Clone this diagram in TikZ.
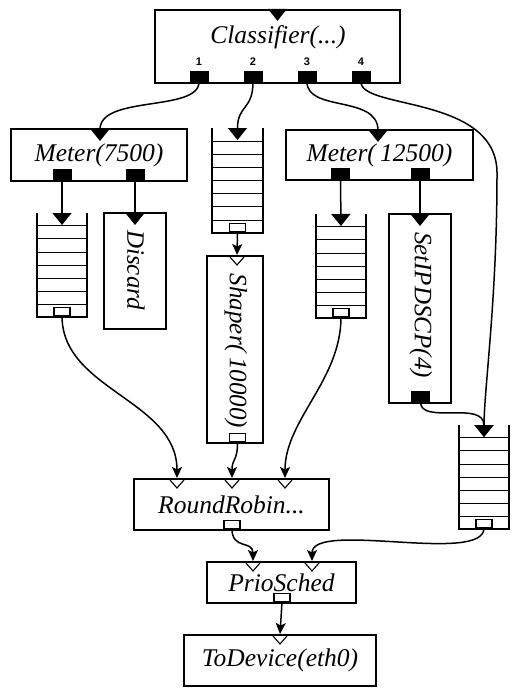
\documentclass[tikz,border=0pt]{standalone}
\usepackage{fontspec}
\setmainfont{Liberation Serif}
\setsansfont{Liberation Sans}
\usetikzlibrary{arrows.meta,calc}
\tikzset{
 box/.style={draw, line width=2.3pt, inner sep=0pt, fill=white, font=\itshape\fontsize{25.5}{25.5}\selectfont},
 lab/.style={font=\itshape\fontsize{25.5}{25.5}\selectfont, inner sep=0pt},
 rlab/.style={font=\itshape\fontsize{25}{25}\selectfont, inner sep=0pt, rotate=-90},
 num/.style={font=\sffamily\bfseries\fontsize{11}{11}\selectfont, inner sep=0pt},
 pushout/.style={fill=black, draw=black, line width=0.6pt, minimum width=18pt, minimum height=10pt, inner sep=0pt, anchor=south},
 pullout/.style={fill=white, draw=black, line width=1.1pt, minimum width=16pt, minimum height=8pt, inner sep=0pt, anchor=south},
 pushconn/.style={line width=1.5pt, -{Triangle[length=12pt,width=19pt]}},
 pullconn/.style={line width=1.5pt, -{Stealth[length=11pt,width=10pt,inset=2.5pt]}},
 qbox/.style={minimum width=50pt, minimum height=104pt, inner sep=0pt},
 qside/.style={line width=2.3pt},
 qline/.style={line width=0.9pt},
 pullin/.style={draw, line width=1.1pt, line join=miter},
}
\newcommand\drawq[1]{%
 \draw[qside] (#1.north west) -- (#1.south west) -- (#1.south east) -- (#1.north east);
 \foreach \k in {1,...,7}{\draw[qline] ($(#1.north west)!\k/8!(#1.south west)$) -- ($(#1.north east)!\k/8!(#1.south east)$);}%
}
\newcommand\pullport[1]{\draw[pullin] ($(#1)+(-7,0)$) -- ($(#1)+(0,8)$) -- ($(#1)+(7,0)$);}
\begin{document}
\begin{tikzpicture}[x=1pt,y=-1pt]
\useasboundingbox (0,0) rectangle (520,696);
% boxes
\node[box, minimum width=245pt, minimum height=73pt] (cls) at (277.5,46.5) {};
\node[lab] (clsT) at (278,37) {Classifier(...)};
\node[num] (n1) at (199,62) {1};
\node[num] (n2) at (253,62) {2};
\node[num] (n3) at (307,62) {3};
\node[num] (n4) at (361,62) {4};
\fill ($(cls.north)+(-9.5,0)$) -- ($(cls.north)+(9.5,0)$) -- ($(cls.north)+(0,12)$) -- cycle;

\node[box, minimum width=176pt, minimum height=52pt] (m1) at (99,155) {Meter(7500)};
\node[box, minimum width=187pt, minimum height=50pt] (m2) at (379.5,155) {Meter(\,12500)};
\node[box, minimum width=62pt, minimum height=116pt] (disc) at (135,271) {};
\node[rlab] (discT) at (136,270) {Discard};
\node[box, minimum width=62pt, minimum height=189pt] (setip) at (420,308.5) {};
\node[rlab] (setipT) at (421,305) {SetIPDSCP(4)};
\node[box, minimum width=56pt, minimum height=187pt] (shaper) at (235,349.5) {};
\node[rlab] (shaperT) at (236,351) {Shaper(\,10000)};
\node[box, minimum width=195pt, minimum height=51pt] (rr) at (231.5,504.5) {RoundRobin...};
\node[box, minimum width=149pt, minimum height=41pt] (prio) at (281.5,582.5) {PrioSched};
\node[box, minimum width=192pt, minimum height=51pt] (todev) at (280,660.5) {ToDevice(eth0)};

% queues
\node[qbox, minimum height=105pt] (qa) at (237.5,180.5) {};
\node[qbox] (qb) at (62,265) {};
\node[qbox] (qc) at (341,266) {};
\node[qbox] (qd) at (484,477) {};
\drawq{qa}\drawq{qb}\drawq{qc}\drawq{qd}

% output ports
\node[pushout] (c1) at (199,82) {};
\node[pushout] (c2) at (253,82) {};
\node[pushout] (c3) at (307,82) {};
\node[pushout] (c4) at (361,82) {};
\node[pushout] (m1a) at (62,180) {};
\node[pushout] (m1b) at (135,180) {};
\node[pushout] (m2a) at (340.5,179) {};
\node[pushout] (m2b) at (420,179) {};
\node[pushout] (spo) at (420.5,402) {};
\node[pullout] (qao) at (237.5,232) {};
\node[pullout] (qbo) at (62,316) {};
\node[pullout] (qco) at (341,317) {};
\node[pullout] (qdo) at (484,528) {};
\node[pullout] (sho) at (237.5,442) {};
\node[pullout] (rro) at (232,529) {};
\node[pullout] (pro) at (282,602) {};

% input coordinates
\coordinate (m1in) at (100,141);
\coordinate (qain) at (237.5,140);
\coordinate (m2in) at (378,142);
\coordinate (qbin) at (62,225);
\coordinate (discin) at (135,225);
\coordinate (qcin) at (341,226);
\coordinate (spin) at (420,226);
\coordinate (qdin) at (484,437);
\coordinate (shin) at (237,257);
\coordinate (rrin1) at (177,480);
\coordinate (rrin2) at (232,480);
\coordinate (rrin3) at (285,480);
\coordinate (prin1) at (253,563);
\coordinate (prin2) at (312,563);
\coordinate (tdin) at (280,636);
\pullport{shin}\pullport{rrin1}\pullport{rrin2}\pullport{rrin3}
\pullport{prin1}\pullport{prin2}\pullport{tdin}

% push connectors
\draw[pushconn] (c1.south) .. controls (199,112) and (100,95) .. (m1in);
\draw[pushconn] (c2.south) .. controls (253,110) and (237.5,105) .. (qain);
\draw[pushconn] (c3.south) .. controls (307,112) and (378,95) .. (m2in);
\draw[pushconn] (c4.south) .. controls (361,110) and (499,95) .. (497,175) .. controls (497,300) and (484,390) .. (qdin);
\draw[pushconn] (m1a.south) -- (qbin);
\draw[pushconn] (m1b.south) -- (discin);
\draw[pushconn] (m2a.south) -- (qcin);
\draw[pushconn] (m2b.south) -- (spin);
\draw[pushconn] (spo.south) .. controls (420.5,425) and (484,400) .. (qdin);

% pull connectors
\draw[pullconn] (qao.south) -- ($(shin)+(0,-2)$);
\draw[pullconn] (qbo.south) .. controls (62,390) and (177,400) .. ($(rrin1)+(0,-2)$);
\draw[pullconn] (sho.south) .. controls (237.5,462) and (232,458) .. ($(rrin2)+(0,-2)$);
\draw[pullconn] (qco.south) .. controls (341,380) and (285,420) .. ($(rrin3)+(0,-2)$);
\draw[pullconn] (rro.south) .. controls (232,550) and (253,540) .. ($(prin1)+(0,-2)$);
\draw[pullconn] (qdo.south) .. controls (484,565) and (312,520) .. ($(prin2)+(0,-2)$);
\draw[pullconn] (pro.south) -- ($(tdin)+(0,-2)$);
\end{tikzpicture}
\end{document}
